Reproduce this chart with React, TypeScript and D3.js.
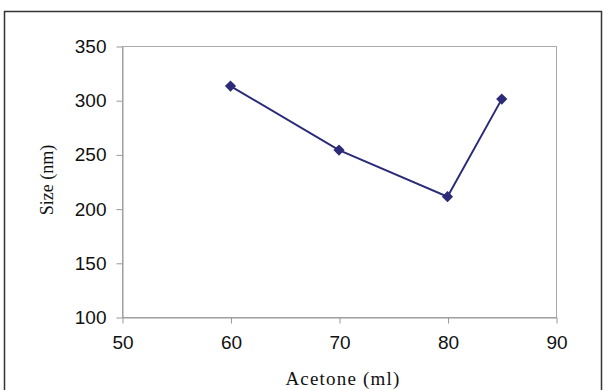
import React, { useEffect, useRef } from 'react';
import * as d3 from 'd3';

const acetone = [60, 70, 80, 85];
const sizeNm = [313, 254, 211, 301];
const xTicks = [50, 60, 70, 80, 90];
const yTicks = [100, 150, 200, 250, 300, 350];

const W = 603;
const H = 390;

export default function App() {
  const ref = useRef<SVGSVGElement>(null);

  useEffect(() => {
    const svg = d3.select(ref.current);
    svg.selectAll('*').remove();

    // outer frame
    svg.append('rect')
      .attr('x', 4.5).attr('y', 11.5)
      .attr('width', 597).attr('height', 390)
      .attr('fill', 'none')
      .attr('stroke', '#333')
      .attr('stroke-width', 1.5);

    const left = 122, right = 556, top = 46, bottom = 317;

    const x = d3.scaleLinear().domain([50, 90]).range([left, right]);
    const y = d3.scaleLinear().domain([100, 350]).range([bottom, top]);

    // plot area box
    svg.append('rect')
      .attr('x', left + 0.5).attr('y', top + 0.5)
      .attr('width', right - left).attr('height', bottom - top)
      .attr('fill', 'none')
      .attr('stroke', '#aaa');

    const xAxis = svg.append('g')
      .attr('transform', `translate(0.5,${bottom + 0.5})`)
      .call(d3.axisBottom(x).tickValues(xTicks).tickSize(6).tickSizeOuter(0).tickPadding(12));
    const yAxis = svg.append('g')
      .attr('transform', `translate(${left + 0.5},0.5)`)
      .call(d3.axisLeft(y).tickValues(yTicks).tickSize(6).tickSizeOuter(0).tickPadding(10));

    [xAxis, yAxis].forEach(g => {
      g.select('.domain').attr('stroke', '#999');
      g.selectAll('line').attr('stroke', '#999');
      g.selectAll('text')
        .attr('fill', '#111')
        .attr('font-family', 'Liberation Sans, Arial, sans-serif')
        .attr('font-size', 19);
    });

    const pts = acetone.map((a, i) => [a, sizeNm[i]] as [number, number]);
    const line = d3.line<[number, number]>().x(d => x(d[0])).y(d => y(d[1]));

    svg.append('path')
      .datum(pts)
      .attr('d', line)
      .attr('fill', 'none')
      .attr('stroke', '#2b2b78')
      .attr('stroke-width', 2);

    svg.append('g')
      .selectAll('path')
      .data(pts)
      .enter().append('path')
      .attr('d', d3.symbol(d3.symbolDiamond2, 80)() as string)
      .attr('transform', d => `translate(${x(d[0])},${y(d[1])})`)
      .attr('fill', '#2b2b78');

    svg.append('text')
      .attr('x', 343)
      .attr('y', 385)
      .attr('text-anchor', 'middle')
      .attr('font-family', 'Liberation Serif, Times New Roman, serif')
      .attr('font-size', 19)
      .attr('letter-spacing', 1.2)
      .attr('fill', '#111')
      .text('Acetone (ml)');

    svg.append('text')
      .attr('transform', `translate(53,180) rotate(-90)`)
      .attr('text-anchor', 'middle')
      .attr('font-family', 'Liberation Serif, Times New Roman, serif')
      .attr('font-size', 18)
      .attr('fill', '#111')
      .text('Size (nm)');
  }, []);

  return (
    <svg ref={ref} width={W} height={H}
      style={{ position: 'absolute', left: 0, top: 0, background: '#fff' }} />
  );
}
